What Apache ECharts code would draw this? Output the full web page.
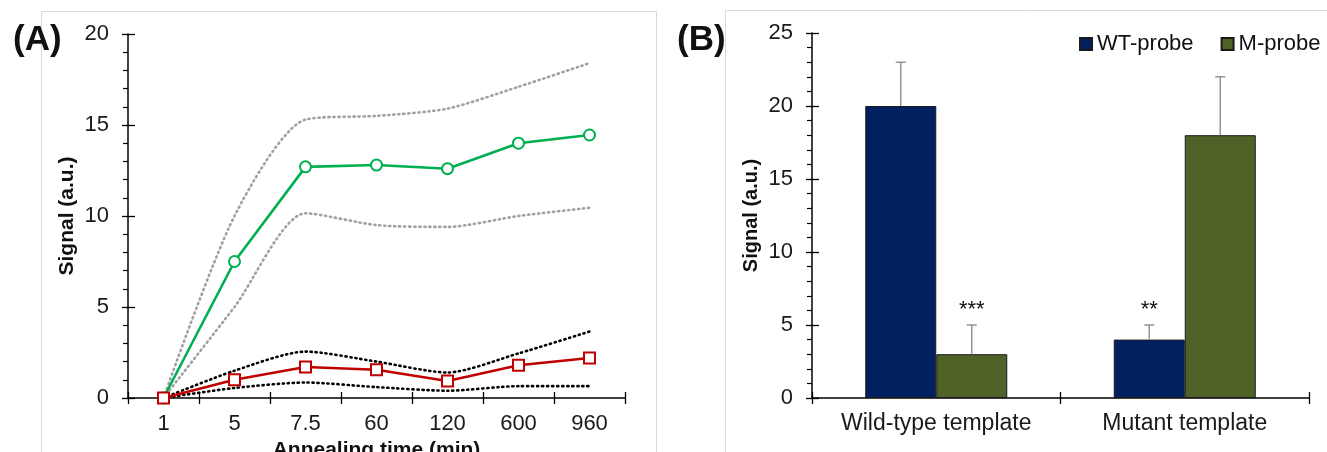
<!DOCTYPE html>
<html>
<head>
<meta charset="utf-8">
<script src="https://cdn.jsdelivr.net/npm/echarts@6/dist/echarts.min.js"></script>
<style>
html,body{margin:0;padding:0;background:#fff;}
#chart{width:1327px;height:452px;}
</style>
</head>
<body>
<div id="chart"></div>
<script>
// ---------- Panel A data ----------
const timeLabels = ['1', '5', '7.5', '60', '120', '600', '960'];
const greenMean  = [0, 7.5, 12.7, 12.8, 12.6, 14.0, 14.45];
const greenUpper = [0, 10.0, 15.3, 15.5, 15.9, 17.1, 18.4];
const greenLower = [0, 5.0, 10.15, 9.5, 9.4, 10.0, 10.45];
const redMean    = [0, 1.0, 1.7, 1.55, 0.93, 1.8, 2.2];
const redUpper   = [0, 1.5, 2.55, 2.0, 1.4, 2.45, 3.65];
const redLower   = [0, 0.55, 0.85, 0.6, 0.4, 0.65, 0.65];
const yTicksA = {min: 0, max: 20, interval: 5};

// ---------- Panel B data ----------
const templates   = ['Wild-type template', 'Mutant template'];
const wtProbe     = [20, 4];
const wtProbeErr  = [3, 1];
const wtProbeSig  = ['', '**'];
const mProbe      = [3, 18];
const mProbeErr   = [2, 4];
const mProbeSig   = ['***', ''];
const yTicksB = {min: 0, max: 25, interval: 5};

const FONT = 'Liberation Sans, Arial, sans-serif';
const BAR_W = 71;

const chart = echarts.init(document.getElementById('chart'), null, {renderer: 'canvas'});

function valueAxis(gridIndex, t, main) {
  return {
    type: 'value', gridIndex: gridIndex, min: t.min, max: t.max, interval: t.interval, position: 'left',
    axisLine: {show: main, lineStyle: {color: '#000', width: 1.5}},
    axisTick: {show: true, inside: !main, length: main ? 6 : 7, lineStyle: {color: '#000', width: 1.3}},
    minorTick: {show: main, splitNumber: 5, length: 5, lineStyle: {color: '#000', width: 1.2}},
    axisLabel: {show: main, margin: 19, fontSize: 22, color: '#1a1a1a', fontFamily: FONT},
    splitLine: {show: false}
  };
}
function catAxis(gridIndex, data, main, extra) {
  return Object.assign({
    type: 'category', gridIndex: gridIndex, data: data, position: 'bottom',
    axisLine: {show: main, lineStyle: {color: '#000', width: 1.5}},
    axisTick: {show: true, inside: !main, length: 6, lineStyle: {color: '#000', width: 1.3}},
    axisLabel: {show: main, margin: 15, fontSize: 22, color: '#1a1a1a', fontFamily: FONT},
    splitLine: {show: false}
  }, extra || {});
}

function errRender(offsetSign) {
  return function (params, api) {
    const c = api.value(0), v = api.value(1), e = api.value(2);
    const sig = api.value(3);
    const p0 = api.coord([c, v]);
    const p1 = api.coord([c, v + e]);
    const x = p0[0] + offsetSign * BAR_W / 2;
    const style = {stroke: '#858585', lineWidth: 1.3};
    const children = [
      {type: 'line', shape: {x1: x, y1: p0[1], x2: x, y2: p1[1]}, style: style},
      {type: 'line', shape: {x1: x - 5, y1: p1[1], x2: x + 5, y2: p1[1]}, style: style}
    ];
    if (sig) {
      children.push({type: 'text', style: {text: sig, x: x, y: p1[1] - 15, align: 'center', verticalAlign: 'middle',
        fontSize: 22, fontFamily: FONT, fill: '#111'}});
    }
    return {type: 'group', children: children};
  };
}

const dotted = [1.2, 3.8];

const option = {
  backgroundColor: '#fff',
  animation: false,
  textStyle: {fontFamily: FONT},
  title: [
    {text: '(A)', left: 8, top: 18, textStyle: {fontSize: 35, fontWeight: 'bold', color: '#111', fontFamily: FONT}},
    {text: '(B)', left: 672, top: 18, textStyle: {fontSize: 35, fontWeight: 'bold', color: '#111', fontFamily: FONT}}
  ],
  graphic: [
    {type: 'rect', z: -1, shape: {x: 41.5, y: 11.5, width: 615, height: 500}, style: {fill: 'none', stroke: '#d9d9d9', lineWidth: 1}},
    {type: 'rect', z: -1, shape: {x: 725.5, y: 10.5, width: 700, height: 500}, style: {fill: 'none', stroke: '#d9d9d9', lineWidth: 1}}
  ],
  legend: {
    data: ['WT-probe', 'M-probe'], left: 1079, top: 33, width: 320, orient: 'horizontal', icon: 'rect',
    itemWidth: 12, itemHeight: 12, itemGap: 27, padding: 0,
    textStyle: {fontSize: 22, color: '#111', fontFamily: FONT}
  },
  grid: [
    {left: 128, top: 34, width: 497, height: 364, outerBoundsMode: 'none', containLabel: false},
    {left: 812, top: 33, width: 497, height: 365, outerBoundsMode: 'none', containLabel: false}
  ],
  xAxis: [
    catAxis(0, timeLabels, true, {name: 'Annealing time (min)', nameLocation: 'middle', nameGap: 38,
      nameTextStyle: {fontSize: 21, fontWeight: 'bold', color: '#111', fontFamily: FONT, verticalAlign: 'top'}}),
    catAxis(0, timeLabels, false),
    catAxis(1, templates, true, {axisLabel: {show: true, margin: 14, fontSize: 23, color: '#1a1a1a', fontFamily: FONT}}),
    catAxis(1, templates, false)
  ],
  yAxis: [
    Object.assign(valueAxis(0, yTicksA, true), {name: 'Signal (a.u.)', nameLocation: 'middle', nameGap: 50,
      nameTextStyle: {fontSize: 21, fontWeight: 'bold', color: '#111', fontFamily: FONT}}),
    valueAxis(0, yTicksA, false),
    Object.assign(valueAxis(1, yTicksB, true), {name: 'Signal (a.u.)', nameLocation: 'middle', nameGap: 51,
      nameTextStyle: {fontSize: 20, fontWeight: 'bold', color: '#111', fontFamily: FONT}}),
    valueAxis(1, yTicksB, false)
  ],
  series: [
    {name: 'Green upper', type: 'line', xAxisIndex: 0, yAxisIndex: 0, data: greenUpper, smooth: 0.25, symbol: 'none',
      lineStyle: {color: '#a0a0a0', width: 2.6, type: dotted, cap: 'round'}, z: 1},
    {name: 'Green lower', type: 'line', xAxisIndex: 0, yAxisIndex: 0, data: greenLower, smooth: 0.25, symbol: 'none',
      lineStyle: {color: '#a0a0a0', width: 2.6, type: dotted, cap: 'round'}, z: 1},
    {name: 'Red upper', type: 'line', xAxisIndex: 0, yAxisIndex: 0, data: redUpper, smooth: 0.25, symbol: 'none',
      lineStyle: {color: '#000', width: 2.6, type: dotted, cap: 'round'}, z: 1},
    {name: 'Red lower', type: 'line', xAxisIndex: 0, yAxisIndex: 0, data: redLower, smooth: 0.25, symbol: 'none',
      lineStyle: {color: '#000', width: 2.6, type: dotted, cap: 'round'}, z: 1},
    {name: 'Green', type: 'line', xAxisIndex: 0, yAxisIndex: 0, data: greenMean, symbol: 'emptyCircle', symbolSize: 11,
      lineStyle: {color: '#00B050', width: 2.6}, itemStyle: {color: '#00B050', borderWidth: 1.8}, z: 3},
    {name: 'Red', type: 'line', xAxisIndex: 0, yAxisIndex: 0, data: redMean, symbol: 'emptyRect', symbolSize: 11,
      lineStyle: {color: '#C00000', width: 2.6}, itemStyle: {color: '#C00000', borderWidth: 1.8}, z: 3},
    {name: 'WT-probe', type: 'bar', xAxisIndex: 2, yAxisIndex: 2, data: wtProbe, barWidth: BAR_W, barGap: '0%',
      itemStyle: {color: '#002060', borderColor: '#1a1a1a', borderWidth: 1}},
    {name: 'M-probe', type: 'bar', xAxisIndex: 2, yAxisIndex: 2, data: mProbe, barWidth: BAR_W, barGap: '0%',
      itemStyle: {color: '#4F6228', borderColor: '#1a1a1a', borderWidth: 1}},
    {name: 'WT-probe error', type: 'custom', xAxisIndex: 2, yAxisIndex: 2, renderItem: errRender(-1), z: 5,
      data: templates.map((t, i) => [i, wtProbe[i], wtProbeErr[i], wtProbeSig[i]])},
    {name: 'M-probe error', type: 'custom', xAxisIndex: 2, yAxisIndex: 2, renderItem: errRender(1), z: 5,
      data: templates.map((t, i) => [i, mProbe[i], mProbeErr[i], mProbeSig[i]])}
  ]
};
chart.setOption(option);
</script>
</body>
</html>
